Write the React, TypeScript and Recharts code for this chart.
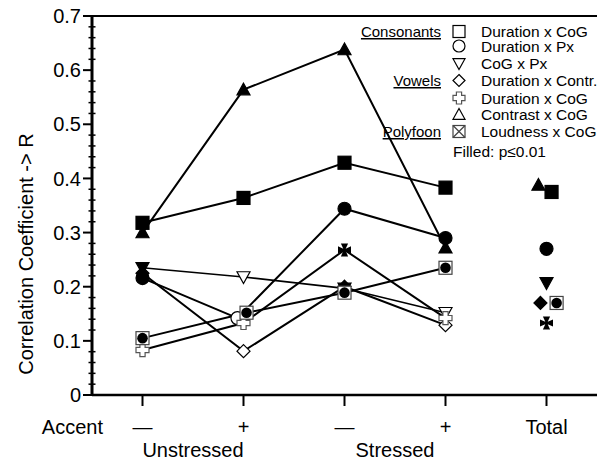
import React from "react";
import { ReferenceLine, Scatter, ScatterChart, XAxis, YAxis } from "recharts";

const FONT = '"Liberation Sans", Arial, sans-serif';

// x positions of the four stress/accent conditions, Total sits at 5
const conditions = [1, 2, 3, 4];
const xTicks = [1, 2, 3, 4, 5];
const xTickLabels = ["—", "+", "—", "+", "Total"];

const yMajorTicks = [0, 0.1, 0.2, 0.3, 0.4, 0.5, 0.6, 0.7];
const yTickLabels = ["0", "0.1", "0.2", "0.3", "0.4", "0.5", "0.6", "0.7"];

// Consonants
const durCogCons = [0.318, 0.364, 0.429, 0.383];
const durCogConsFilled = [true, true, true, true];
const durPx = [0.216, 0.142, 0.344, 0.29];
const durPxFilled = [true, false, true, true];
const durPxX = [1, 1.94, 3, 4];
const cogPx = [0.235, 0.218, 0.197, 0.152];
const cogPxFilled = [true, false, true, false];
// Vowels
const durContr = [0.225, 0.081, 0.2, 0.129];
const durContrFilled = [true, false, true, false];
const durCogVow = [0.083, 0.133, 0.268, 0.142];
const durCogVowFilled = [false, false, true, false];
const contrCog = [0.3, 0.564, 0.638, 0.272];
const contrCogFilled = [true, true, true, true];
// Polyfoon
const loudCog = [0.105, 0.152, 0.189, 0.235];
const loudCogFilled = [true, true, true, true];
const loudCogX = [1, 2.03, 3, 4];

// Total column, same series order as below
const totalValues = [0.375, 0.27, 0.207, 0.17, 0.133, 0.388, 0.17];
const totalX = [5.05, 5, 5, 4.94, 5, 4.92, 5.1];

type Kind = "square" | "circle" | "tdown" | "diamond" | "cross" | "tup" | "boxx";

const series: { name: string; kind: Kind; xs: number[]; ys: number[]; filled: boolean[]; width: number }[] = [
  { name: "Duration x CoG", kind: "square", xs: conditions, ys: durCogCons, filled: durCogConsFilled, width: 2 },
  { name: "Duration x Px", kind: "circle", xs: durPxX, ys: durPx, filled: durPxFilled, width: 2 },
  { name: "CoG x Px", kind: "tdown", xs: conditions, ys: cogPx, filled: cogPxFilled, width: 1.6 },
  { name: "Duration x Contr.", kind: "diamond", xs: conditions, ys: durContr, filled: durContrFilled, width: 2 },
  { name: "Duration x CoG", kind: "cross", xs: conditions, ys: durCogVow, filled: durCogVowFilled, width: 2 },
  { name: "Contrast x CoG", kind: "tup", xs: conditions, ys: contrCog, filled: contrCogFilled, width: 2 },
  { name: "Loudness x CoG", kind: "boxx", xs: loudCogX, ys: loudCog, filled: loudCogFilled, width: 2 },
];

const groups = [
  { label: "Consonants", row: 0 },
  { label: "Vowels", row: 3 },
  { label: "Polyfoon", row: 6 },
];
const legendRowsY = [37, 51.5, 69, 86, 103.5, 120, 137];

function Marker({ kind, cx, cy, filled, size = 13 }: { kind: Kind; cx: number; cy: number; filled: boolean; size?: number }) {
  const h = size / 2;
  const fill = filled ? "#000" : "#fff";
  const p = { fill, stroke: "#000", strokeWidth: 1.2 };
  switch (kind) {
    case "square":
      return <rect x={cx - h} y={cy - h} width={size} height={size} {...p} />;
    case "circle":
      return <circle cx={cx} cy={cy} r={h} {...p} />;
    case "tdown":
      return <polygon points={`${cx - h},${cy - h * 0.8} ${cx + h},${cy - h * 0.8} ${cx},${cy + h}`} {...p} />;
    case "tup":
      return <polygon points={`${cx},${cy - h} ${cx - h},${cy + h * 0.8} ${cx + h},${cy + h * 0.8}`} {...p} />;
    case "diamond":
      return <polygon points={`${cx},${cy - h} ${cx + h},${cy} ${cx},${cy + h} ${cx - h},${cy}`} {...p} />;
    case "cross": {
      if (filled) {
        const a1 = 1.2;
        const a2 = 3.6;
        const pts = [
          [cx - a2, cy - h], [cx + a2, cy - h], [cx + a1, cy - a1], [cx + h, cy - a2],
          [cx + h, cy + a2], [cx + a1, cy + a1], [cx + a2, cy + h], [cx - a2, cy + h],
          [cx - a1, cy + a1], [cx - h, cy + a2], [cx - h, cy - a2], [cx - a1, cy - a1],
        ];
        return <polygon points={pts.map((q) => q.join(",")).join(" ")} fill="#000" />;
      }
      const a = 2.6;
      const pts = [
        [cx - a, cy - h], [cx + a, cy - h], [cx + a, cy - a], [cx + h, cy - a],
        [cx + h, cy + a], [cx + a, cy + a], [cx + a, cy + h], [cx - a, cy + h],
        [cx - a, cy + a], [cx - h, cy + a], [cx - h, cy - a], [cx - a, cy - a],
      ];
      return <polygon points={pts.map((q) => q.join(",")).join(" ")} fill="#fff" stroke="#555" strokeWidth={1.2} />;
    }
    case "boxx":
      return (
        <g>
          <rect x={cx - h} y={cy - h} width={size} height={size} fill="#fff" stroke="#444" strokeWidth={1.2} />
          {filled ? (
            <circle cx={cx} cy={cy} r={h - 1.2} fill="#000" />
          ) : (
            <>
              <line x1={cx - h} y1={cy - h} x2={cx + h} y2={cy + h} stroke="#444" strokeWidth={1.2} />
              <line x1={cx + h} y1={cy - h} x2={cx - h} y2={cy + h} stroke="#444" strokeWidth={1.2} />
            </>
          )}
        </g>
      );
  }
  return null;
}

// every 0.02 between the labelled ticks
const yAllTicks: number[] = [];
yMajorTicks.forEach((t, i) => {
  yAllTicks.push(t);
  if (i < yMajorTicks.length - 1) for (let k = 1; k < 5; k++) yAllTicks.push(+(t + k * 0.02).toFixed(2));
});

function YTick({ x, y, payload }: any) {
  const idx = yMajorTicks.findIndex((t) => Math.abs(t - payload.value) < 1e-6);
  if (idx < 0) return <line x1={x - 3.5} x2={x + 3.5} y1={y} y2={y} stroke="#000" strokeWidth={1.5} />;
  return (
    <g>
      <line x1={x - 9} x2={x} y1={y} y2={y} stroke="#000" strokeWidth={2} />
      <text x={x - 11} y={y} dy="0.355em" textAnchor="end" fontSize={20} fontFamily={FONT} fill="#000">
        {yTickLabels[idx]}
      </text>
    </g>
  );
}

function XTick({ x, y, payload }: any) {
  const idx = xTicks.indexOf(payload.value);
  return (
    <g>
      <line x1={x} x2={x} y1={y} y2={y + 11} stroke="#000" strokeWidth={2} />
      <text x={x} y={y + 39} textAnchor="middle" fontSize={20} fontFamily={FONT} fill="#000">
        {xTickLabels[idx]}
      </text>
    </g>
  );
}

export default function App() {
  const lineData = series.map((s) => s.ys.map((v, i) => ({ x: s.xs[i], y: v, filled: s.filled[i] })));
  return (
    <div style={{ position: "absolute", left: 0, top: 0, width: 597, height: 461, background: "#fff" }}>
      <ScatterChart width={597} height={461} margin={{ top: 16, right: 0, bottom: 0, left: 0 }}>
        <XAxis
          type="number"
          dataKey="x"
          domain={[0.5, 5.5]}
          ticks={xTicks}
          tick={<XTick />}
          tickLine={false}
          tickSize={0}
          tickMargin={0}
          axisLine={{ stroke: "#000", strokeWidth: 2.5 }}
          height={66}
        />
        <YAxis
          type="number"
          dataKey="y"
          domain={[0, 0.7]}
          ticks={yAllTicks}
          interval={0}
          tick={<YTick />}
          tickLine={false}
          tickSize={0}
          tickMargin={0}
          axisLine={{ stroke: "#000", strokeWidth: 3 }}
          width={92}
        />
        <ReferenceLine y={0.7} stroke="#000" strokeWidth={2} />
        {series.map((s, i) => (
          <Scatter
            key={`line-${i}`}
            data={lineData[i]}
            line={{ stroke: "#000", strokeWidth: s.width }}
            shape={() => <g />}
            isAnimationActive={false}
          />
        ))}
        {series.map((s, i) => (
          <Scatter
            key={`pts-${i}`}
            data={lineData[i]}
            shape={(p: any) => <Marker kind={s.kind} cx={p.cx} cy={p.cy} filled={p.payload.filled} />}
            isAnimationActive={false}
          />
        ))}
        <Scatter
          data={series.map((s, i) => ({ x: totalX[i], y: totalValues[i], kind: s.kind }))}
          shape={(p: any) => <Marker kind={p.payload.kind} cx={p.cx} cy={p.cy} filled />}
          isAnimationActive={false}
        />
      </ScatterChart>
      <svg
        width={597}
        height={461}
        style={{ position: "absolute", left: 0, top: 0, pointerEvents: "none" }}
        fontFamily={FONT}
      >
        <text
          transform="translate(26,254) rotate(-90)"
          textAnchor="middle"
          dominantBaseline="central"
          fontSize={20}
        >
          Correlation Coefficient -&gt; R
        </text>
        <text x={103} y={434} textAnchor="end" fontSize={20}>Accent</text>
        <text x={193} y={457} textAnchor="middle" fontSize={20}>Unstressed</text>
        <text x={395} y={457} textAnchor="middle" fontSize={20}>Stressed</text>
        {groups.map((g) => (
          <text key={g.label} x={441} y={legendRowsY[g.row]} textAnchor="end" fontSize={15} textDecoration="underline">
            {g.label}
          </text>
        ))}
        {series.map((s, i) => (
          <g key={`leg-${i}`}>
            <Marker kind={s.kind} cx={459} cy={legendRowsY[i] - 5.5} filled={false} size={12} />
            <text x={481} y={legendRowsY[i]} fontSize={15.5}>{s.name}</text>
          </g>
        ))}
        <text x={453} y={157} fontSize={15.5}>Filled: p≤0.01</text>
      </svg>
    </div>
  );
}
